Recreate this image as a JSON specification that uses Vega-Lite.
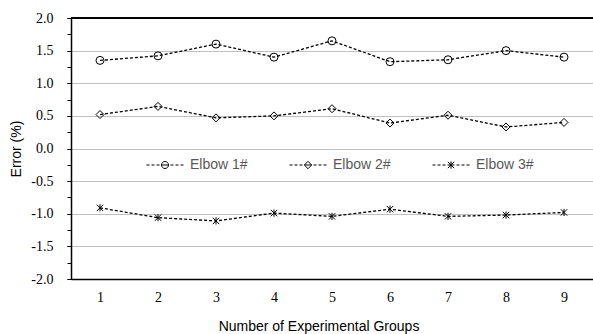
{
  "$schema": "https://vega.github.io/schema/vega-lite/v6.json",
  "width": 522,
  "height": 261,
  "autosize": {"type": "none"},
  "padding": {"left": 71, "top": 18, "right": 0, "bottom": 55},
  "background": "white",
  "config": {
    "view": {"stroke": null},
    "locale": {"number": {"decimal": ".", "thousands": ",", "grouping": [3], "currency": ["$", ""], "minus": "-"}}
  },
  "data": {
    "values": [
      {"group": 1, "series": "Elbow 1#", "error": 1.35},
      {"group": 2, "series": "Elbow 1#", "error": 1.42},
      {"group": 3, "series": "Elbow 1#", "error": 1.60},
      {"group": 4, "series": "Elbow 1#", "error": 1.40},
      {"group": 5, "series": "Elbow 1#", "error": 1.65},
      {"group": 6, "series": "Elbow 1#", "error": 1.33},
      {"group": 7, "series": "Elbow 1#", "error": 1.36},
      {"group": 8, "series": "Elbow 1#", "error": 1.50},
      {"group": 9, "series": "Elbow 1#", "error": 1.40},
      {"group": 1, "series": "Elbow 2#", "error": 0.52},
      {"group": 2, "series": "Elbow 2#", "error": 0.645},
      {"group": 3, "series": "Elbow 2#", "error": 0.47},
      {"group": 4, "series": "Elbow 2#", "error": 0.50},
      {"group": 5, "series": "Elbow 2#", "error": 0.61},
      {"group": 6, "series": "Elbow 2#", "error": 0.39},
      {"group": 7, "series": "Elbow 2#", "error": 0.51},
      {"group": 8, "series": "Elbow 2#", "error": 0.33},
      {"group": 9, "series": "Elbow 2#", "error": 0.40},
      {"group": 1, "series": "Elbow 3#", "error": -0.91},
      {"group": 2, "series": "Elbow 3#", "error": -1.06},
      {"group": 3, "series": "Elbow 3#", "error": -1.11},
      {"group": 4, "series": "Elbow 3#", "error": -0.99},
      {"group": 5, "series": "Elbow 3#", "error": -1.04},
      {"group": 6, "series": "Elbow 3#", "error": -0.93},
      {"group": 7, "series": "Elbow 3#", "error": -1.04},
      {"group": 8, "series": "Elbow 3#", "error": -1.02},
      {"group": 9, "series": "Elbow 3#", "error": -0.98}
    ]
  },
  "layer": [
    {
      "mark": {"type": "line", "color": "black", "strokeWidth": 1.3, "strokeDash": [3, 2]},
      "encoding": {
        "x": {
          "field": "group",
          "type": "ordinal",
          "scale": {"type": "point", "padding": 0.5},
          "axis": {
            "labelAngle": 0,
            "ticks": false,
            "tickSize": 0,
            "labelPadding": 11,
            "domainColor": "black",
            "domainWidth": 1.5,
            "grid": false,
            "labelFont": "Liberation Serif",
            "labelFontSize": 14,
            "labelColor": "black",
            "title": "Number of Experimental Groups",
            "titleFont": "Liberation Sans",
            "titleFontSize": 14,
            "titleFontWeight": "normal",
            "titleColor": "black",
            "titleX": 247.5,
            "titleY": 51,
            "titleBaseline": "alphabetic"
          }
        },
        "y": {
          "field": "error",
          "type": "quantitative",
          "scale": {"domain": [-2, 2], "nice": false, "zero": false},
          "axis": {
            "orient": "left",
            "values": [-2, -1.5, -1, -0.5, 0, 0.5, 1, 1.5, 2],
            "format": ".1f",
            "labelOverlap": false,
            "labelFlush": false,
            "grid": true,
            "gridColor": "#c0c0c0",
            "gridWidth": 1,
            "domainColor": "black",
            "domainWidth": 1.5,
            "tickColor": "black",
            "tickSize": 4,
            "labelPadding": 14,
            "labelFont": "Liberation Serif",
            "labelFontSize": 14,
            "labelColor": "black",
            "title": "Error (%)",
            "titleFont": "Liberation Sans",
            "titleFontSize": 14,
            "titleFontWeight": "normal",
            "titleColor": "black",
            "titleX": -48,
            "titleY": 130.5
          }
        },
        "detail": {"field": "series"}
      }
    },
    {
      "mark": {"type": "point", "filled": false, "color": "black", "strokeWidth": 1, "size": 64, "opacity": 1},
      "encoding": {
        "x": {"field": "group", "type": "ordinal"},
        "y": {"field": "error", "type": "quantitative", "axis": null},
        "shape": {
          "field": "series",
          "type": "nominal",
          "scale": {"range": ["circle", "diamond", "M0,-0.9L0,0.9M-0.8,-0.8L0.8,0.8M-0.8,0.8L0.8,-0.8"]},
          "legend": null
        }
      }
    },
    {
      "mark": {"type": "point", "filled": false, "color": "black", "strokeWidth": 1, "size": 1, "opacity": 0},
      "encoding": {
        "x": {"field": "group", "type": "ordinal"},
        "y": {"field": "error", "type": "quantitative", "axis": null},
        "shape": {
          "field": "series",
          "type": "nominal",
          "scale": {"range": [
            "M-1,0H-0.838M-0.73,0H-0.568M-0.459,0H-0.297M-0.189,0H0.189M0.297,0H0.459M0.568,0H0.73M0.838,0H1M0.189,0A0.189,0.189,0,1,1,-0.189,0A0.189,0.189,0,1,1,0.189,0",
            "M-1,0H-0.838M-0.73,0H-0.568M-0.459,0H-0.297M-0.189,0H0.189M0.297,0H0.459M0.568,0H0.73M0.838,0H1M-0.2,0L0,-0.2L0.2,0L0,0.2Z",
            "M-1,0H-0.838M-0.73,0H-0.568M-0.459,0H-0.297M-0.189,0H0.189M0.297,0H0.459M0.568,0H0.73M0.838,0H1M0,-0.2V0.2M-0.17,-0.17L0.17,0.17M-0.17,0.17L0.17,-0.17"
          ]},
          "legend": {
            "title": null,
            "orient": "none",
            "legendX": 75,
            "legendY": 128,
            "direction": "horizontal",
            "padding": 0,
            "symbolSize": 1369,
            "symbolStrokeColor": "black",
            "symbolFillColor": "transparent",
            "symbolStrokeWidth": 1,
            "symbolOpacity": 1,
            "labelOffset": 6,
            "columnPadding": 39,
            "labelFont": "Liberation Sans",
            "labelFontSize": 14,
            "labelColor": "#595959"
          }
        }
      }
    },
    {
      "mark": {"type": "rule", "color": "black", "strokeWidth": 1.5},
      "encoding": {
        "y": {
          "datum": 2,
          "type": "quantitative",
          "axis": {
            "orient": "left",
            "values": [-2, -1.75, -1.5, -1.25, -1, -0.75, -0.5, -0.25, 0, 0.25, 0.5, 0.75, 1, 1.25, 1.5, 1.75, 2],
            "labels": false,
            "grid": false,
            "domain": false,
            "ticks": true,
            "tickSize": 4,
            "tickColor": "black",
            "title": null
          }
        }
      }
    }
  ],
  "resolve": {"scale": {"shape": "independent"}, "legend": {"shape": "independent"}, "axis": {"y": "independent"}}
}
